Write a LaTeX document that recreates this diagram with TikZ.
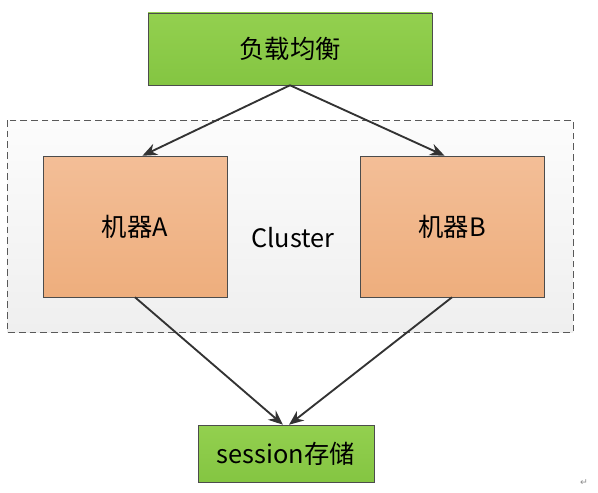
\documentclass[tikz,border=0pt]{standalone}
\usepackage{fontspec}
\setmainfont{Noto Sans CJK SC}
\newfontfamily\symfont{DejaVu Sans}
\usepackage{tikz}
\usetikzlibrary{arrows,arrows.meta}
\definecolor{gtop}{HTML}{93D04F}
\definecolor{gbot}{HTML}{84C542}
\definecolor{otop}{HTML}{F3BE97}
\definecolor{obot}{HTML}{EEAE7D}
\definecolor{ctop}{HTML}{FCFCFC}
\definecolor{cbot}{HTML}{EFEFEF}
\definecolor{lnk}{HTML}{333333}

\begin{document}
\begin{tikzpicture}[->,>={Stealth[length=11pt,width=9pt]},x=0.75pt,y=-0.75pt,
                    semithick]
\tikzstyle{every node}=[font=\fontsize{19}{22}\selectfont,text=black,inner sep=0pt]
\tikzstyle{green box}=[draw=black!70,thin,top color=gtop,bottom color=gbot]
\tikzstyle{orange box}=[draw=black!70,thin,top color=otop,bottom color=obot,
                        minimum width=138pt,minimum height=105.75pt]
\tikzstyle{link}=[draw=lnk,line width=1.4pt]
\useasboundingbox (0,0) rectangle (598,492);
% cluster frame
\draw[-,draw=black!65,dash pattern=on 5pt off 3pt,top color=ctop,bottom color=cbot]
  (7,120) rectangle (573,332);
\node [green box,minimum width=213pt,minimum height=54pt] (lb) at (290,49) {负载均衡};
\node [orange box] (machA) at (135,226.5) {机器A};
\node [orange box] (machB) at (452,226.5) {机器B};
\node (cluster) at (293,238) {Cluster};
\node [green box,minimum width=132pt,minimum height=42.75pt] (store) at (286,453.5) {session存储};
\node [font=\symfont\fontsize{7}{8}\selectfont,text=black!45] (ret) at (584,483) {↵};

\draw[link] (lb.south) -- (machA.84);
\draw[link] (lb.south) -- (machB.96);
\draw[link] (machA.south) -- (store.96);
\draw[link] (machB.south) -- (store.84);
\end{tikzpicture}
\end{document}
